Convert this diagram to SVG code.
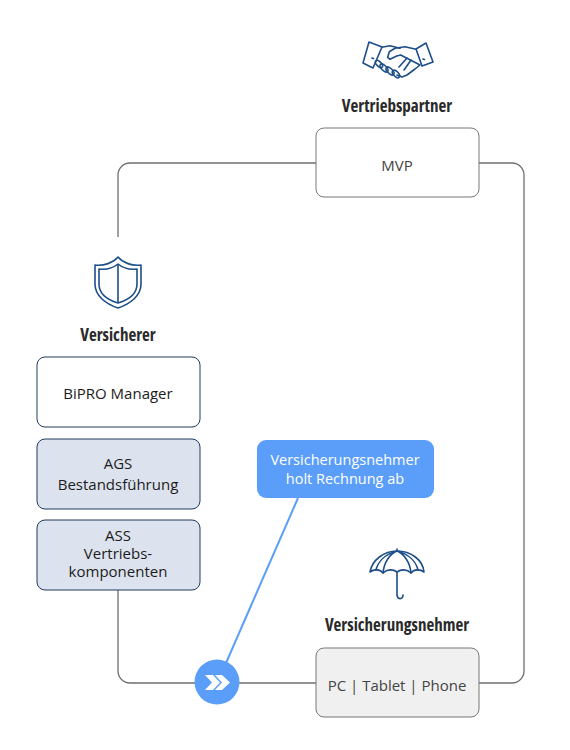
<svg xmlns="http://www.w3.org/2000/svg" width="570" height="750" viewBox="0 0 570 750">
<style>
text{font-family:"Open Sans","Noto Sans",sans-serif;font-size:15px;fill:#1c1c1c;text-anchor:middle}
.t{font-weight:700;font-size:17px;font-stretch:condensed;fill:#2a2a2a}
.g{fill:#444}
.w{fill:#fff;font-size:14.500px}
.box{stroke:#1f3a5f;stroke-width:1;fill:#fff}
.grey{stroke:#777}
.blue{fill:#dde3ee}
.ic{fill:none;stroke:#1d4e89;stroke-width:1.600;stroke-linejoin:round;stroke-linecap:round}
.c{fill:none;stroke:#707070;stroke-width:1.300}
</style>
<rect width="570" height="750" fill="#fff"/>
<g id="connectors">
<path class="c" d="M118 237V175a12 12 0 0 1 12-12H316"/>
<path class="c" d="M479 163H512a12 12 0 0 1 12 12V671a12 12 0 0 1-12 12H479"/>
<path class="c" d="M118 590V671a12 12 0 0 0 12 12H316"/>
<path fill="none" stroke="#5b9ef9" stroke-width="2" d="M298 498L226 663"/>
</g>
<g id="vertriebspartner">
<g class="ic">
<path d="M369 42L382 47L373 68L363 63Z"/>
<path d="M416 49L426 43L433 62L422 66Z"/>
<path d="M381.700 47.300L390 45.700L400 48.300"/>
<path d="M416 49.300L405 46.700L395 48.300L389.300 51.700L387.700 57.300L390 59.300L396.700 56L400.700 55L420 65L415 69L407 75L402 77L397 75"/>
<path d="M411 60L404 70M407 58L399 67"/>
<ellipse cx="379" cy="64" rx="4.500" ry="2.300" transform="rotate(45 379 64)"/>
<ellipse cx="384" cy="68" rx="5" ry="2.500" transform="rotate(45 384 68)"/>
<ellipse cx="390" cy="71" rx="5" ry="2.500" transform="rotate(45 390 71)"/>
<ellipse cx="396" cy="74" rx="4.500" ry="2.500" transform="rotate(45 396 74)"/>
<path d="M372 58L373.500 58.500M423 59L424.500 59.500"/>
</g>
<text class="t" x="397" y="112">Vertriebspartner</text>
<rect class="box grey" x="316" y="128" width="163" height="69" rx="8"/>
<text class="g" x="397" y="171">MVP</text>
</g>
<g id="versicherer">
<g class="ic">
<path d="M118 257C113 263 104 266 95 265V284C95 296 106 304 118 308C130 304 141 296 141 284V265C132 266 123 263 118 257Z"/>
<path d="M118 264C113 268 106 270 99 269V284C99 294 108 300 118 303C128 300 137 294 137 284V269C130 270 123 268 118 264ZM118 264V303"/>
</g>
<text class="t" x="118" y="341">Versicherer</text>
</g>
<g id="bipro">
<rect class="box" x="37" y="357" width="163" height="70" rx="8"/>
<text x="118" y="399">BiPRO Manager</text>
</g>
<g id="ags">
<rect class="box blue" x="37" y="439" width="163" height="70" rx="8"/>
<text x="118" y="469">AGS</text><text x="118" y="490">Bestandsführung</text>
</g>
<g id="ass">
<rect class="box blue" x="37" y="520" width="163" height="70" rx="8"/>
<text x="118" y="541">ASS</text><text x="118" y="559">Vertriebs-</text><text x="118" y="577">komponenten</text>
</g>
<g id="rechnung">
<rect x="257" y="440" width="177" height="58" rx="9" fill="#5b9ef9"/>
<text class="w" x="345" y="465">Versicherungsnehmer</text>
<text class="w" x="345" y="484">holt Rechnung ab</text>
</g>
<g id="versicherungsnehmer">
<g class="ic">
<path d="M370 572C372 560 384 551 397 551C411 551 423 560 424 572C420 569 414 569 411 573C407 569 401 569 397 572C393 569 387 569 383 573C380 569 374 569 370 572Z"/>
<path d="M383 573C384 562 390 554 397 551C404 554 410 562 411 573M376 570C378 561 386 554 397 551C408 554 416 561 418 570M397 551V549M397 572V596M397 594C397 600 403 600 403 595"/>
</g>
<text class="t" x="397" y="631">Versicherungsnehmer</text>
<rect class="box grey" x="316" y="648" width="163" height="69" rx="8" style="fill:#f0f0f0"/>
<text class="g" x="397" y="691">PC | Tablet | Phone</text>
</g>
<g id="hub">
<circle cx="217" cy="682" r="22.500" fill="#5b9ef9"/>
<path fill="#fff" d="M205 675H213L220 682.500L213 690H205L212 682.500ZM215 675H222L230 682.500L222 690H215L222 682.500Z"/>
</g>
</svg>
